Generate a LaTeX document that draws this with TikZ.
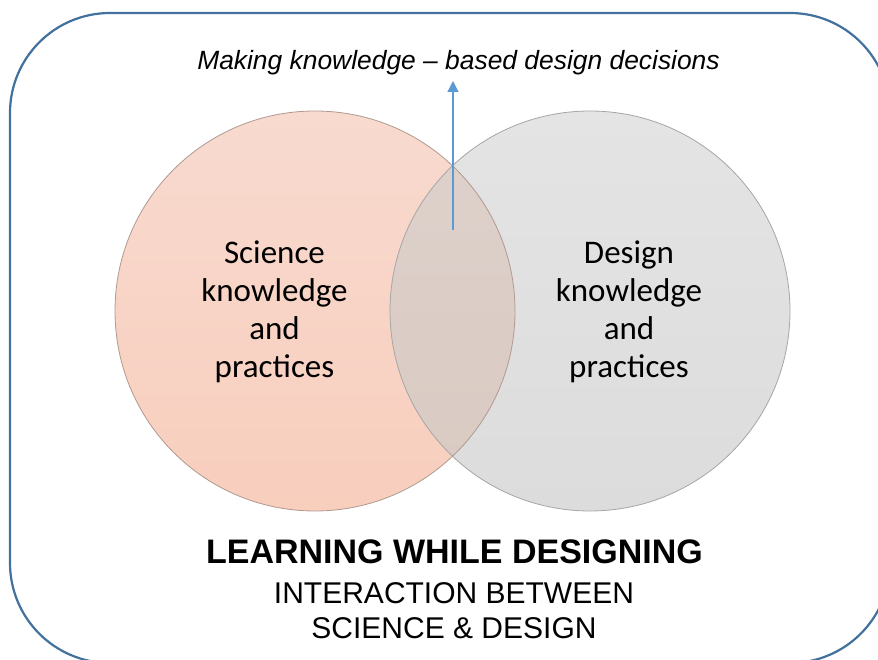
\documentclass[tikz,border=0pt]{standalone}
\usepackage{fontspec}
\setmainfont{Liberation Sans}
\newfontfamily\calfont{Carlito}
\definecolor{frameblue}{HTML}{41719C}
\definecolor{arrowblue}{HTML}{5B9BD5}
\definecolor{peachtop}{HTML}{F8DACF}
\definecolor{peachbot}{HTML}{F8CEBD}
\definecolor{greytop}{HTML}{E4E4E4}
\definecolor{greybot}{HTML}{DCDCDC}
\definecolor{overtop}{HTML}{DED2CC}
\definecolor{overbot}{HTML}{D9C9C1}
\definecolor{peachline}{HTML}{B09A90}
\definecolor{greyline}{HTML}{A6A6A6}
\tikzset{
  frame/.style={draw=frameblue, line width=2.2pt, rounded corners=100pt},
  lcircle/.style={circle, minimum size=400pt, inner sep=0pt, top color=peachtop, bottom color=peachbot, draw=none},
  rcircle/.style={circle, minimum size=400pt, inner sep=0pt, top color=greytop, bottom color=greybot, draw=none},
  ringl/.style={circle, minimum size=400pt, inner sep=0pt, draw=peachline, line width=0.8pt},
  ringr/.style={circle, minimum size=400pt, inner sep=0pt, draw=greyline, line width=0.8pt},
  circtext/.style={align=center, inner sep=0pt, font=\calfont\fontsize{33}{38}\selectfont},
  toptext/.style={inner sep=0pt, font=\itshape\fontsize{26.4}{30}\selectfont},
  headtext/.style={inner sep=0pt, font=\bfseries\fontsize{34}{38}\selectfont},
  subtext/.style={align=center, inner sep=0pt, font=\fontsize{30}{35}\selectfont},
  upline/.style={draw=arrowblue, line width=1.3pt, -{Triangle[length=11pt,width=11pt]}}
}
\usetikzlibrary{arrows.meta}
\begin{document}
\begin{tikzpicture}[x=1pt,y=-1pt]
\clip (0,0) rectangle (878,660);
\fill[white] (0,0) rectangle (878,660);
\draw[frame] (10,13) rectangle (890,663);
\coordinate (lc) at (315,311);
\coordinate (rc) at (590,311);
\node[lcircle] (L) at (lc) {};
\node[rcircle] (R) at (rc) {};
\begin{scope}
  \clip (lc) circle[radius=200pt];
  \shade[top color=overtop, bottom color=overbot] (rc) circle[radius=200pt];
\end{scope}
\node[ringl] (Lring) at (lc) {};
\node[ringr] (Rring) at (rc) {};
\node[circtext, anchor=base] (sci) at (274.5,377) {Science\\knowledge\\and\\practices};
\node[circtext, anchor=base] (des) at (629,377) {Design\\knowledge\\and\\practices};
\node[toptext, anchor=base] (title) at (458.5,70) {Making knowledge – based design decisions};
\coordinate (arrfrom) at (453,230);
\coordinate (arrto) at (453,81);
\draw[upline] (arrfrom) -- (arrto);
\node[headtext, anchor=base] (head) at (454.5,563) {LEARNING WHILE DESIGNING};
\node[subtext, anchor=base] (sub1) at (454,603) {INTERACTION BETWEEN};
\node[subtext, anchor=base] (sub2) at (454,638) {SCIENCE \& DESIGN};
\end{tikzpicture}
\end{document}
